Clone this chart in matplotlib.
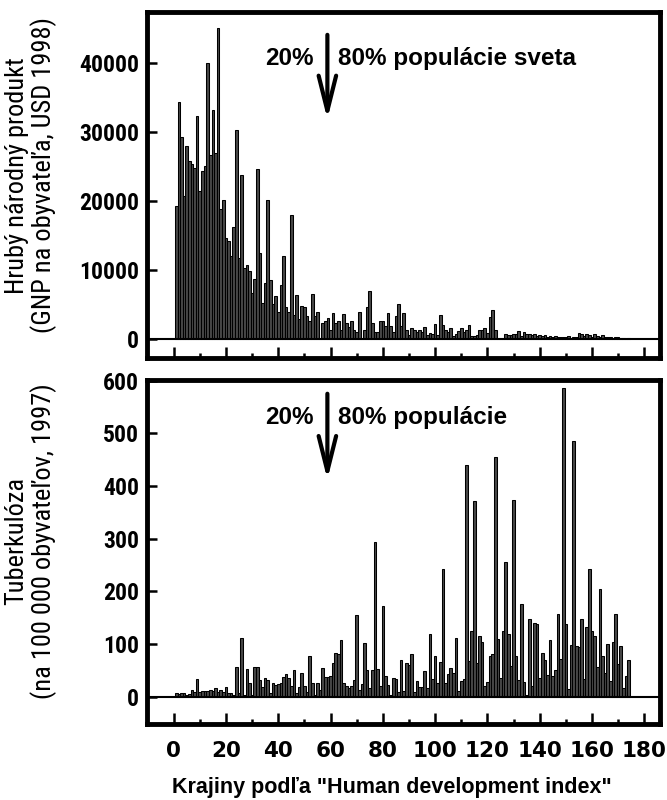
import matplotlib
matplotlib.use('Agg')
import matplotlib.pyplot as plt
from matplotlib import font_manager
import numpy as np

# ---------------- data ----------------
# GNP per capita (USD 1998), countries ordered by HDI rank 1..174
gnp = [19200, 34300, 29300, 20700, 27900, 25700, 25400, 24800, 32300, 21400,
       24300, 25000, 40000, 26600, 33100, 26900, 45000, 18800, 20200, 14700,
       14200, 12000, 16300, 30200, 11800, 23700, 10300, 10800, 9900, 6700,
       8700, 24600, 12500, 5200, 8100, 20200, 8500, 5100, 6200, 3900,
       7800, 12100, 4700, 4000, 17900, 3500, 6400, 2900, 4800, 4600,
       3300, 2600, 6500, 3400, 4000, 0, 2300, 2700, 3100, 1300,
       3800, 2400, 2600, 1400, 3600, 2400, 1800, 2600, 1400, 1000,
       3900, 0, 1400, 4700, 7000, 2300, 1100, 1100, 2700, 2600,
       1900, 3800, 1900, 1000, 3300, 5100, 1900, 3800, 1300, 600,
       1700, 1300, 1000, 1300, 1000, 1800, 600, 900, 700, 2200,
       600, 3500, 2000, 1300, 1100, 1700, 500, 800, 1200, 1600,
       1100, 1300, 2100, 500, 500, 600, 1400, 1400, 1600, 900,
       3200, 4300, 1400, 0, 0, 0, 800, 600, 600, 800,
       700, 1200, 500, 1000, 800, 700, 600, 700, 500, 600,
       500, 600, 400, 500, 400, 500, 400, 300, 400, 300,
       500, 200, 300, 400, 900, 700, 500, 800, 600, 400,
       700, 500, 400, 600, 300, 400, 300, 200, 300, 300,
       200, 200, 100, 200]

# Tuberculosis cases per 100 000 inhabitants (1997)
tbc = [6, 5, 6, 6, 3, 5, 12, 9, 33, 9,
       11, 11, 10, 13, 11, 16, 8, 12, 8, 18,
       6, 7, 4, 57, 6, 111, 3, 52, 25, 3,
       56, 57, 31, 18, 35, 31, 6, 26, 22, 24,
       26, 37, 42, 35, 21, 50, 6, 18, 45, 20,
       8, 78, 26, 3, 25, 12, 55, 38, 38, 40,
       63, 82, 81, 107, 26, 20, 16, 21, 31, 155,
       12, 23, 101, 50, 16, 50, 293, 52, 20, 172,
       39, 22, 4, 35, 33, 9, 69, 11, 63, 60,
       80, 8, 29, 19, 19, 48, 17, 119, 33, 78,
       26, 65, 242, 26, 43, 55, 45, 111, 10, 29,
       33, 440, 67, 125, 371, 64, 115, 103, 21, 28,
       78, 80, 454, 109, 36, 125, 256, 118, 58, 373,
       77, 31, 176, 27, 3, 147, 21, 139, 138, 36,
       82, 69, 41, 107, 39, 51, 157, 72, 586, 137,
       14, 98, 486, 96, 94, 147, 33, 133, 242, 124,
       115, 56, 204, 78, 44, 100, 29, 103, 157, 61,
       97, 16, 39, 70]

rank = np.arange(1, len(gnp) + 1)

x_ticks = list(range(0, 181, 20))
x_minor = list(range(10, 181, 20))
gnp_ticks = [0, 10000, 20000, 30000, 40000]
tbc_ticks = [0, 100, 200, 300, 400, 500, 600]

ylabel_top = 'Hrubý národný produkt\n(GNP na obyvateľa, USD 1998)'
ylabel_bot = 'Tuberkulóza\n(na 100 000 obyvateľov, 1997)'
xlabel = 'Krajiny podľa "Human development index"'
txt_left = '20%'
txt_top = '80% populácie sveta'
txt_bot = '80% populácie'
split_x = 58.8

# ---------------- fonts ----------------
ttf = font_manager.fontManager.ttflist
names = {f.name for f in ttf}
arial = 'Liberation Sans' if 'Liberation Sans' in names else 'DejaVu Sans'
narrow, narrow_stretch, have_narrow = arial, 'normal', False
for cand in ('Liberation Sans Narrow', 'Arial Narrow', 'Roboto Condensed', 'Open Sans Condensed'):
    if cand in names:
        narrow, have_narrow = cand, True
        break
if not have_narrow:
    for f in ttf:
        if str(f.stretch) in ('condensed', 'semi-condensed', 'extra-condensed') or \
           (isinstance(f.stretch, int) and f.stretch < 500):
            narrow, narrow_stretch, have_narrow = f.name, f.stretch, True
            break

fig = plt.figure(figsize=(6.67, 8), dpi=100)
ax1 = fig.add_axes([0.2211, 0.5525, 0.7684, 0.4325])
ax2 = fig.add_axes([0.2211, 0.095, 0.7684, 0.4306])

for ax, vals in ((ax1, gnp), (ax2, tbc)):
    ax.bar(rank, vals, width=1.0, color='#474747', edgecolor='black', linewidth=0.75, zorder=2)
    ax.axhline(0, color='black', lw=1.5, zorder=3)
    ax.set_xlim(-10, 186)
    for s in ax.spines.values():
        s.set_linewidth(3.5)
    ax.set_xticks(x_ticks)
    ax.set_xticks(x_minor, minor=True)
    ax.tick_params(axis='x', which='major', direction='in', length=8, width=1.8)
    ax.tick_params(axis='x', which='minor', direction='in', length=3.8, width=1.8)
    ax.tick_params(axis='y', which='major', direction='in', length=7, width=1.8, pad=6)
    ax.tick_params(top=False, right=False)

ax1.set_ylim(-2700, 47300)
ax1.set_yticks(gnp_ticks)
ax1.tick_params(labelbottom=False)
ax2.set_ylim(-52, 602)
ax2.set_yticks(tbc_ticks)
ax2.tick_params(axis='x', pad=12)

ytick_size = 17 if have_narrow else 15
for ax in (ax1, ax2):
    for lab in ax.get_yticklabels():
        lab.set_fontfamily(narrow if have_narrow else arial)
        lab.set_fontstretch(narrow_stretch)
        lab.set_fontweight('bold')
        lab.set_fontsize(ytick_size)
for lab in ax2.get_xticklabels():
    lab.set_fontfamily('DejaVu Sans')
    lab.set_fontweight('bold')
    lab.set_fontsize(15.5)

# annotations
akw = dict(fontsize=17.5, fontweight='bold', family=arial, va='baseline')
ax1.text(53.5, 39600, txt_left, ha='right', **akw)
ax1.text(63.0, 39600, txt_top, ha='left', **akw)
ax2.text(53.5, 518, txt_left, ha='right', **akw)
ax2.text(63.0, 518, txt_bot, ha='left', **akw)
arw = dict(arrowstyle='->,head_length=1.8,head_width=0.45', lw=3, color='black',
           mutation_scale=14, shrinkA=0, shrinkB=0)
ax1.annotate('', xy=(split_x, 31800), xytext=(split_x, 44000), arrowprops=arw)
ax2.annotate('', xy=(split_x, 412), xytext=(split_x, 575), arrowprops=arw)

# axis labels
ylab_size = 19 if have_narrow else 16
fig.text(0.0465, 0.781, ylabel_top, rotation=90, ha='center', va='center',
         multialignment='center', fontsize=ylab_size, family=narrow,
         stretch=narrow_stretch, linespacing=1.1)
fig.text(0.0465, 0.324, ylabel_bot, rotation=90, ha='center', va='center',
         multialignment='center', fontsize=ylab_size, family=narrow,
         stretch=narrow_stretch, linespacing=1.1)
fig.text(391.7 / 667, 1 - 793.3 / 800, xlabel, ha='center', va='baseline',
         fontsize=15.5, fontweight='bold', family=arial)

fig.savefig('out.png', dpi=100)
